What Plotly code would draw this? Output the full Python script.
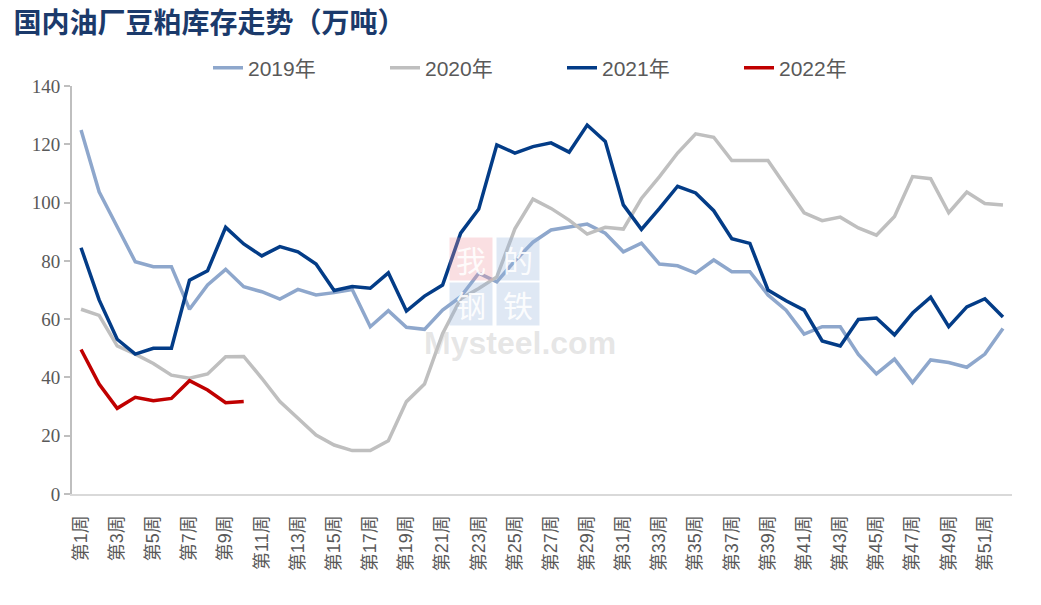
import plotly.graph_objects as go

weeks = [f"第{i}周" for i in range(1, 53)]
tick_labels = [f"第{i}周" for i in range(1, 53, 2)]

y2019 = [124.9, 103.7, 91.7, 79.7, 78.0, 78.0, 63.4, 71.7, 77.1, 71.1,
         69.4, 66.9, 70.2, 68.3, 69.1, 70.2, 57.4, 62.9, 57.2, 56.5,
         63.1, 67.7, 75.8, 72.8, 80.0, 86.4, 90.6, 91.7, 92.6, 89.5,
         83.1, 86.1, 78.9, 78.3, 75.8, 80.3, 76.3, 76.3, 68.3, 63.1,
         54.9, 57.4, 57.4, 47.9, 41.2, 46.3, 38.2, 46.0, 45.1, 43.5,
         48.0, 56.8]
y2020 = [63.4, 61.3, 50.8, 48.0, 44.8, 40.8, 39.7, 41.2, 47.1, 47.2,
         39.7, 31.7, 26.0, 20.2, 16.8, 14.9, 14.9, 18.3, 31.7, 37.7,
         55.0, 67.0, 70.5, 74.5, 91.0, 101.2, 98.0, 94.0, 89.2, 91.5,
         90.9, 101.4, 108.9, 117.0, 123.6, 122.4, 114.4, 114.4, 114.4, 105.4,
         96.5, 93.8, 95.0, 91.3, 88.8, 95.2, 108.9, 108.2, 96.5, 103.6,
         99.7, 99.2]
y2021 = [84.5, 66.6, 53.1, 48.0, 50.0, 50.0, 73.4, 76.6, 91.5, 85.8,
         81.7, 84.9, 83.1, 78.9, 69.8, 71.2, 70.6, 75.9, 62.8, 67.9,
         71.7, 89.5, 97.8, 119.8, 117.0, 119.2, 120.5, 117.3, 126.6, 121.0,
         99.2, 90.8, 98.0, 105.6, 103.3, 97.2, 87.6, 86.0, 70.0, 66.3,
         63.1, 52.5, 50.8, 59.9, 60.4, 54.6, 62.1, 67.5, 57.4, 64.2,
         67.0, 60.7]
y2022 = [49.6, 37.7, 29.4, 33.2, 32.0, 32.8, 38.9, 35.7, 31.3, 31.7]

series = [
    ("2019年", y2019, "#8EA7CC"),
    ("2020年", y2020, "#BFBFBF"),
    ("2021年", y2021, "#033C87"),
    ("2022年", y2022, "#C00000"),
]

fig = go.Figure()
for name, vals, color in series:
    fig.add_trace(go.Scatter(
        x=weeks[:len(vals)], y=vals, name=name, mode="lines",
        line=dict(color=color, width=3.5),
    ))

# watermark
wm = [("我", 0, "rgba(240,150,160,0.3)"), ("的", 1, "rgba(150,180,220,0.3)"),
      ("钢", 2, "rgba(150,180,220,0.3)"), ("铁", 3, "rgba(150,180,220,0.3)")]
for ch, k, bg in wm:
    cx = 471 + (k % 2) * 47
    cy = 259 + (k // 2) * 45
    fig.add_annotation(xref="paper", yref="paper",
                       x=(cx - 72) / 940, y=(494 - cy) / 408,
                       text=ch, showarrow=False, bgcolor=bg,
                       font=dict(size=30, color="rgba(255,255,255,0.9)",
                                 family="Noto Sans CJK SC"),
                       width=40, height=40)
fig.add_annotation(xref="paper", yref="paper", x=(520 - 72) / 940, y=(494 - 343) / 408,
                   text="<b>Mysteel.com</b>", showarrow=False,
                   font=dict(size=32, color="rgba(200,200,200,0.45)", family="Liberation Sans"))

fig.update_layout(
    width=1041, height=605,
    margin=dict(l=72, r=29, t=86, b=111),
    paper_bgcolor="white", plot_bgcolor="white",
    title=dict(text="<b>国内油厂豆粕库存走势（万吨）</b>", x=0.013, xanchor="left",
               y=0.962, yanchor="middle",
               font=dict(size=28, color="#1B3A6B", family="Noto Sans CJK SC")),
    legend=dict(orientation="h", x=(208 - 72) / 940, xanchor="left",
                y=(494 - 68) / 408, yanchor="middle", entrywidth=132,
                font=dict(size=21, color="#595959", family="Liberation Sans, Noto Sans CJK SC"),
                bgcolor="rgba(0,0,0,0)"),
    xaxis=dict(type="category", categoryorder="array", categoryarray=weeks,
               range=[-0.5, 51.5], tickmode="array", tickvals=tick_labels,
               ticktext=tick_labels, tickangle=-90, showgrid=False,
               showline=True, linecolor="#D9D9D9", linewidth=2, ticks="",
               ticklabelstandoff=12,
               tickfont=dict(size=18, color="#595959", family="Liberation Sans, Noto Sans CJK SC")),
    yaxis=dict(range=[0, 140], dtick=20, showgrid=False, zeroline=False,
               showline=True, linecolor="#BFBFBF", linewidth=2,
               ticks="outside", ticklen=6, tickcolor="#BFBFBF", tickwidth=2,
               tickfont=dict(size=19, color="#595959", family="Liberation Serif")),
)

fig.write_html("out.html")
